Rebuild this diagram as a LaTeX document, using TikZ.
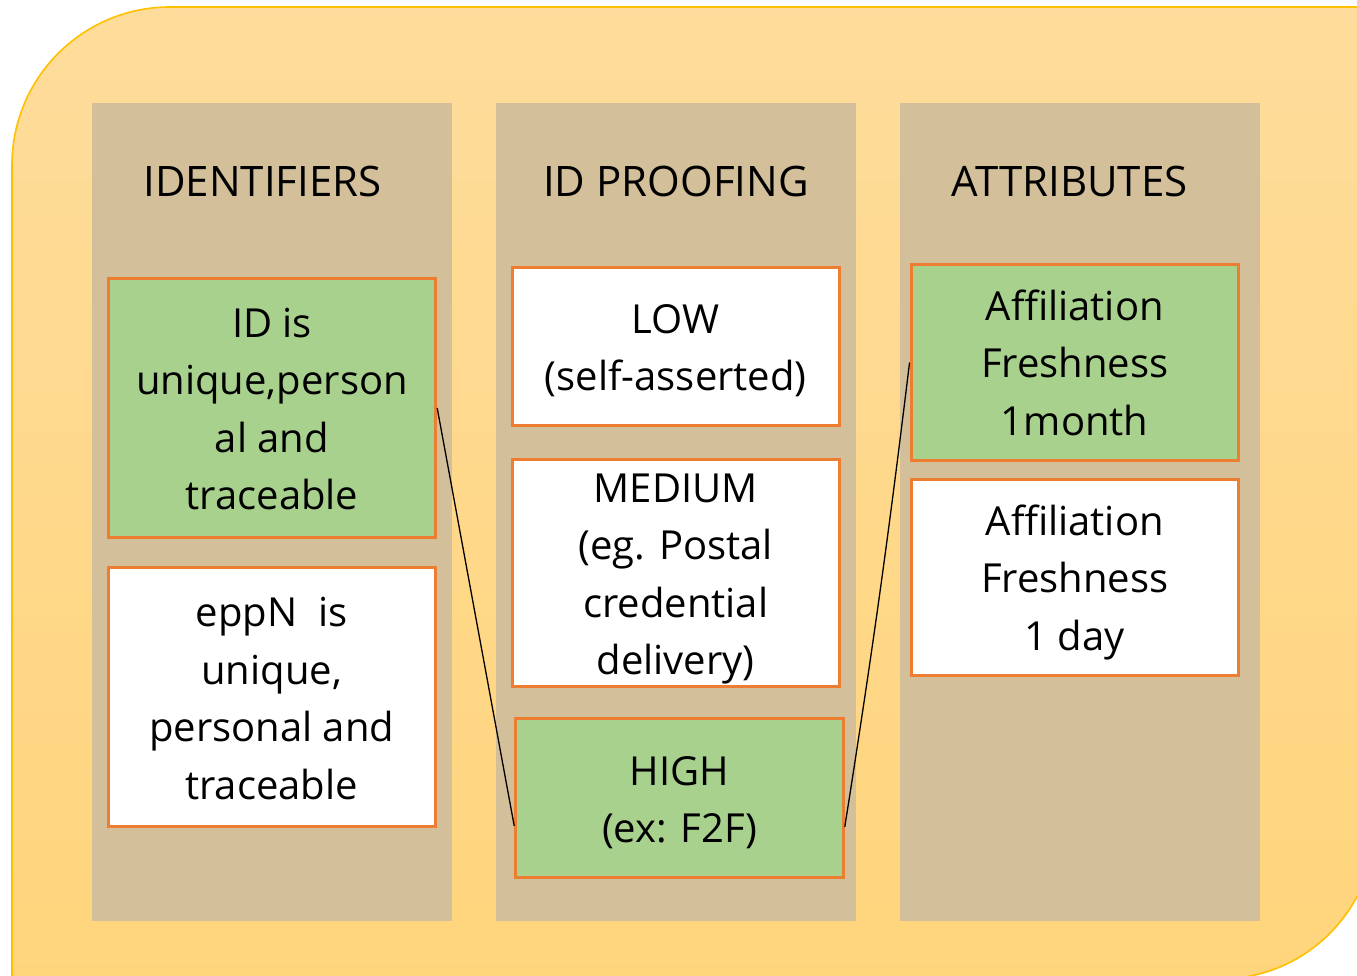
\documentclass[tikz,border=0pt]{standalone}
\usepackage{fontspec}
\setmainfont{Open Sans}
\usetikzlibrary{calc}
\definecolor{bgtop}{RGB}{254,220,155}
\definecolor{bgbot}{RGB}{255,213,124}
\definecolor{bgedge}{RGB}{255,192,0}
\definecolor{coltan}{RGB}{211,191,154}
\definecolor{boxgreen}{RGB}{169,209,142}
\definecolor{boxorange}{RGB}{237,125,49}
\tikzset{
  column/.style={fill=coltan, draw=none},
  coltitle/.style={anchor=base, inner sep=0pt, font=\fontsize{42}{50}\selectfont, text=black},
  levelbox/.style={draw=boxorange, line width=3pt, inner sep=0pt},
  greenbox/.style={levelbox, fill=boxgreen},
  whitebox/.style={levelbox, fill=white},
  boxtext/.style={inner sep=0pt, align=center, font=\fontsize{40}{57.5}\selectfont, text=black},
  link/.style={draw=black, line width=1.3pt}
}
\begin{document}
\begin{tikzpicture}[x=1pt,y=-1pt]
\useasboundingbox (0,0) rectangle (1357,976);
\clip (0,0) rectangle (1357,976);
% background
\path[top color=bgtop, bottom color=bgbot, draw=bgedge, line width=1.6pt]
  (700,7) [rounded corners=158pt] -- (12,7) [sharp corners] -- (12,979)
  [rounded corners=155pt] -- (1375,979) [sharp corners] -- (1375,7) -- cycle;
% columns
\path[column] (92,103) rectangle (452,921);
\path[column] (496,103) rectangle (856,921);
\path[column] (900,103) rectangle (1260,921);
% titles
\node[coltitle] (t1) at (262.5,196.7) {IDENTIFIERS};
\node[coltitle] (t2) at (676,196.7) {ID PROOFING};
\node[coltitle] (t3) at (1069.5,196.7) {ATTRIBUTES};
% boxes
\node[greenbox, minimum width=327.4pt, minimum height=258.3pt] (idA) at (272,408) {};
\node[whitebox, minimum width=326.7pt, minimum height=258.7pt] (idB) at (271.7,696.7) {};
\node[whitebox, minimum width=326.7pt, minimum height=158.4pt] (low) at (675.7,346.5) {};
\node[whitebox, minimum width=326.7pt, minimum height=227.7pt] (med) at (675.7,572.9) {};
\node[greenbox, minimum width=327.6pt, minimum height=159pt] (high) at (679.5,797.8) {};
\node[greenbox, minimum width=327.3pt, minimum height=195pt] (at1) at (1074.7,362.5) {};
\node[whitebox, minimum width=327.3pt, minimum height=195.7pt] (at2) at (1074.7,577.2) {};
% box texts
\node[boxtext] (idAt) at ([yshift=-1pt]idA.center) {ID is\\unique,person\\al and\\traceable};
\node[boxtext] (idBt) at ([yshift=-2pt]idB.center) {eppN\ \ is\\unique,\\personal and\\traceable};
\node[boxtext] (lowt) at ([yshift=-4pt]low.center) {LOW\\(self-asserted)};
\node[boxtext] (medt) at ([yshift=-6pt]med.center) {MEDIUM\\(eg. Postal\\credential\\delivery)};
\node[boxtext] (hight) at ([yshift=-5pt]high.center) {HIGH\\(ex: F2F)};
\node[boxtext] (at1t) at ([yshift=0pt]at1.center) {Affiliation\\Freshness\\1month};
\node[boxtext] (at2t) at ([yshift=-5pt]at2.center) {Affiliation\\Freshness\\1 day};
% links
\coordinate (hl) at ([yshift=-28pt]high.west);
\coordinate (hr) at ([yshift=-29pt]high.east);
\draw[link] (idA.east) -- (hl);
\draw[link] (hr) to[bend right=1] (at1.west);
\end{tikzpicture}
\end{document}
